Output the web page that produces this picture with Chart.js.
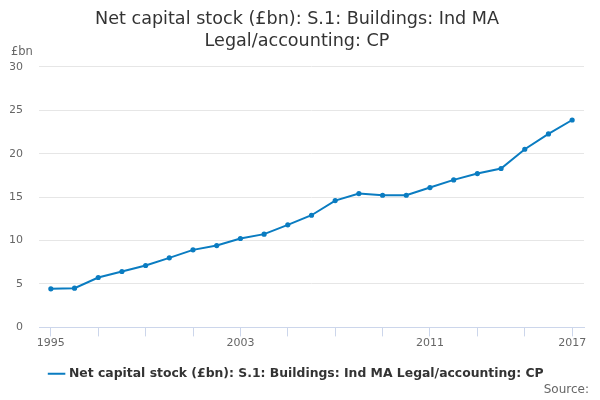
<!DOCTYPE html>
<html>
<head>
<meta charset="utf-8">
<script src="https://cdn.jsdelivr.net/npm/chart.js@4"></script>
<style>
  html, body { margin: 0; padding: 0; background: #fff; }
  #wrap { width: 600px; height: 400px; position: relative; }
</style>
</head>
<body>
<div id="wrap"><canvas id="chart" width="600" height="400"></canvas></div>
<script>
const years = ['1995','1996','1997','1998','1999','2000','2001','2002','2003','2004','2005','2006',
    '2007','2008','2009','2010','2011','2012','2013','2014','2015','2016','2017'];
const stockValues = [4.44, 4.52, 5.75, 6.44, 7.13, 8.01, 8.93, 9.43, 10.24, 10.74, 11.81, 12.92,
    14.61, 15.42, 15.22, 15.22, 16.11, 16.99, 17.72, 18.30, 20.52, 22.28, 23.89];
const shownYears = ['1995', '2003', '2011', '2017'];
const yTicks = [0, 5, 10, 15, 20, 25, 30];
const seriesName = 'Net capital stock (£bn): S.1: Buildings: Ind MA Legal/accounting: CP';
const titleLines = ['Net capital stock (£bn): S.1: Buildings: Ind MA', 'Legal/accounting: CP'];

const FONT = '"DejaVu Sans", sans-serif';

// texts that sit outside the axes: unit label and source note
const extraText = {
    id: 'extraText',
    afterDraw(chart) {
        const c = chart.ctx;
        c.save();
        c.fillStyle = '#666';
        c.font = '11.5px ' + FONT;
        c.textBaseline = 'middle';
        c.textAlign = 'left';
        c.fillText('£bn', 11, 52);
        c.font = '12px ' + FONT;
        c.textAlign = 'right';
        c.fillText('Source:', 589, 390);
        c.restore();
    }
};

const ctx = document.getElementById('chart');
new Chart(ctx, {
    type: 'line',
    data: {
        labels: years,
        datasets: [{
            label: seriesName,
            data: stockValues,
            borderColor: '#0a7cc1',
            backgroundColor: '#0a7cc1',
            borderWidth: 2,
            pointRadius: 1.6,
            pointHoverRadius: 3,
            tension: 0
        }]
    },
    options: {
        responsive: false,
        animation: false,
        layout: { padding: { left: 10, right: 16, top: 0, bottom: 10 } },
        scales: {
            x: {
                offset: true,
                grid: {
                    offset: false,
                    drawOnChartArea: false,
                    color: '#ccd6eb',
                    tickLength: 9
                },
                border: { color: '#ccd6eb' },
                ticks: {
                    autoSkip: false,
                    maxRotation: 0,
                    color: '#666',
                    font: { family: FONT, size: 11 },
                    padding: 0,
                    callback: function(value, index) {
                        const lab = years[index];
                        if (shownYears.includes(lab)) return lab;
                        return index % 2 === 0 ? '' : null;
                    }
                }
            },
            y: {
                min: 0,
                max: 30,
                afterBuildTicks: function(axis) {
                    axis.ticks = yTicks.map(v => ({ value: v }));
                },
                afterFit: function(axis) {
                    axis.width = 29;
                },
                grid: { color: '#e6e6e6', drawTicks: false },
                border: { display: false },
                ticks: {
                    color: '#666',
                    font: { family: FONT, size: 11 },
                    padding: 16
                }
            }
        },
        plugins: {
            title: {
                display: true,
                text: titleLines,
                color: '#333',
                font: { family: FONT, size: 17.6, weight: 'normal', lineHeight: 1.22 },
                padding: { top: 9, bottom: 15 }
            },
            legend: {
                position: 'bottom',
                labels: {
                    usePointStyle: true,
                    pointStyle: 'line',
                    color: '#333',
                    font: { family: FONT, size: 12.4, weight: 'bold' },
                    padding: 18
                }
            },
            tooltip: { enabled: false }
        }
    },
    plugins: [extraText]
});
</script>
</body>
</html>
